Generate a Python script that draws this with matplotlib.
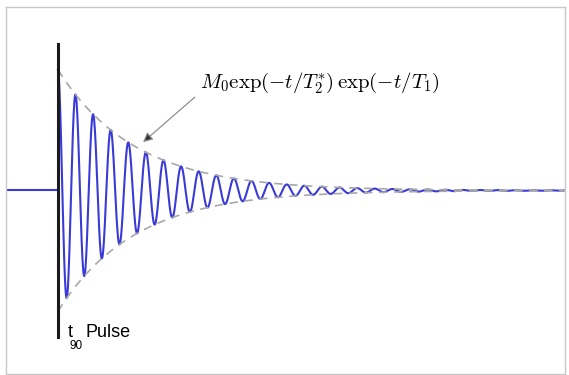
import numpy as np
import matplotlib.pyplot as plt

plt.rcParams['mathtext.fontset'] = 'cm'

# signal parameters (time in arbitrary units, pulse at t = 0)
M0 = 1.0
T2_star = 5.0
T1 = 33.0
freq = 1.0
t_start, t_end = -2.95, 28.8
pulse_height = 1.21

t = np.linspace(0, t_end, 4000)
envelope = M0 * np.exp(-t / T2_star) * np.exp(-t / T1)
signal = envelope * np.cos(2 * np.pi * freq * t)

fig = plt.figure(figsize=(5.69, 3.75), dpi=100)
ax = fig.add_axes([6 / 569, 1 - 374 / 375, 559 / 569, 367 / 375])

# baseline before the pulse
ax.plot([t_start, 0], [0, 0], color='#3a3ad8', lw=1.5)
ax.plot(t, signal, color='#3a3ad8', lw=1.5)
ax.plot(t, envelope, color='#a8a8a8', lw=1.2, ls=(0, (5, 4)))
ax.plot(t, -envelope, color='#a8a8a8', lw=1.2, ls=(0, (5, 4)))
ax.plot([0, 0], [-pulse_height, pulse_height], color='#1a1a1a', lw=2.2)

ax.annotate(r'$M_0\exp(-t/T_2^{*})\,\exp(-t/T_1)$', xy=(4.83, 0.40), xytext=(8.05, 0.89),
            fontsize=15, ha='left', va='center',
            arrowprops=dict(arrowstyle='-|>', color='#909090', fc='#333333', lw=0.9,
                            mutation_scale=14, relpos=(0.0, 0.1), shrinkA=2, shrinkB=0))

ax.text(0.55, -1.21, 't', fontsize=13, family='Liberation Sans', ha='left', va='baseline')
ax.text(0.68, -1.31, '90', fontsize=8.5, family='Liberation Sans', ha='left', va='baseline')
ax.text(1.55, -1.21, 'Pulse', fontsize=13, family='Liberation Sans', ha='left', va='baseline')

ax.set_xlim(t_start, t_end)
ax.set_ylim(-1.52, 1.52)
ax.set_xticks([])
ax.set_yticks([])
for s in ax.spines.values():
    s.set_color('#c8c8c8')
    s.set_linewidth(1.0)

fig.savefig('out.png', dpi=100)
